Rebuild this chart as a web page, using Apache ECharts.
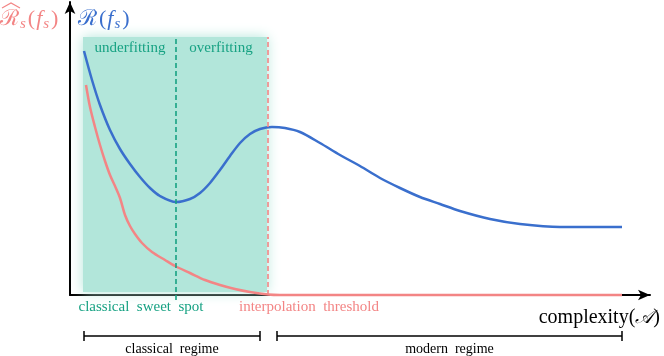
<!DOCTYPE html>
<html>
<head>
<meta charset="utf-8">
<script src="https://cdn.jsdelivr.net/npm/echarts@6/dist/echarts.min.js"></script>
<style>
html, body { margin: 0; padding: 0; background: #fff; }
#chart { width: 664px; height: 356px; }
</style>
</head>
<body>
<div id="chart"></div>
<script>
// complexity on x, risk on y (arbitrary units)
const testRisk = [
  [14, 244], [22, 215], [30, 190], [40, 165], [50, 146], [60, 131], [70, 118],
  [80, 107], [90, 99], [106, 93], [120, 96], [130, 102], [140, 112], [150, 125],
  [160, 139], [170, 152], [180, 161], [190, 166], [202, 168], [215, 167],
  [230, 163], [250, 152], [270, 140], [290, 129], [310, 117], [330, 107],
  [350, 98], [370, 91], [390, 84], [420, 76], [450, 71], [490, 68], [552, 68]
]
const trainRisk = [
  [16, 210], [20, 188], [25, 168], [30, 150], [35, 134], [40, 120], [45, 109],
  [50, 97], [55, 80], [60, 69], [65, 61], [72, 52], [82, 43], [95, 35],
  [105, 29], [120, 22], [135, 15], [150, 10], [165, 6], [180, 3], [198, 0.5],
  [210, 0], [552, 0]
]
const sweetSpotX = 106
const thresholdX = 198
const shadeX = [13, 197]
const shadeTop = 258
const classicalRegime = [14, 190]
const modernRegime = [207, 552]

const BLUE = '#3a6fcd'
const RED = '#f38585'
const TEAL = '#17a283'
const SHADE = '#b2e6da'
const SERIF = "'Liberation Serif', 'DejaVu Serif', serif"

const chart = echarts.init(document.getElementById('chart'))

const axisLine = {
  show: true,
  symbol: ['none', 'arrow'],
  symbolSize: [8, 12],
  lineStyle: { color: '#000', width: 2 },
}

chart.setOption({
  animation: false,
  grid: { left: 70, right: 14, top: 2, bottom: 61 },
  xAxis: {
    type: 'value', min: 0, max: 580,
    axisLine: axisLine,
    axisTick: { show: false }, axisLabel: { show: false }, splitLine: { show: false },
  },
  yAxis: {
    type: 'value', min: 0, max: 293,
    axisLine: axisLine,
    axisTick: { show: false }, axisLabel: { show: false }, splitLine: { show: false },
  },
  series: [
    {
      name: 'shade',
      type: 'line',
      data: [],
      z: 1,
      silent: true,
      markArea: {
        silent: true,
        itemStyle: { color: SHADE, shadowBlur: 12, shadowColor: SHADE },
        data: [[{ coord: [shadeX[0], 3] }, { coord: [shadeX[1], shadeTop] }]],
      },
    },
    {
      name: 'train',
      type: 'line',
      data: trainRisk,
      smooth: 0.3,
      symbol: 'none',
      clip: false,
      z: 3,
      lineStyle: { color: RED, width: 2.5 },
    },
    {
      name: 'test',
      type: 'line',
      data: testRisk,
      smooth: 0.3,
      symbol: 'none',
      clip: false,
      z: 4,
      lineStyle: { color: BLUE, width: 2.5 },
    },
  ],
})

const px = (x, y) => chart.convertToPixel({ gridIndex: 0 }, [x, y])

function label(x, y, text, color, size, align) {
  const p = px(x, y)
  return {
    type: 'text', x: p[0], y: p[1], z: 10,
    style: {
      text: text, fill: color, font: size + 'px ' + SERIF,
      align: align || 'center', verticalAlign: 'middle',
    },
  }
}

function vDash(x, y0, y1, color) {
  const a = px(x, y0)
  const b = px(x, y1)
  return {
    type: 'line', z: 5,
    shape: { x1: a[0], y1: a[1], x2: b[0], y2: b[1] },
    style: { stroke: color, lineWidth: 1.6, lineDash: [5, 3] },
  }
}

function bracket(range, y) {
  const a = px(range[0], y)
  const b = px(range[1], y)
  const ls = { stroke: '#000', lineWidth: 1.5 }
  return [
    { type: 'line', shape: { x1: a[0], y1: a[1], x2: b[0], y2: b[1] }, style: ls },
    { type: 'line', shape: { x1: a[0], y1: a[1] - 5, x2: a[0], y2: a[1] + 5 }, style: ls },
    { type: 'line', shape: { x1: b[0], y1: b[1] - 5, x2: b[0], y2: b[1] + 5 }, style: ls },
  ]
}

const riskRich = {
  r: { fontFamily: "'DejaVu Serif'", fontSize: 22, verticalAlign: 'middle', padding: [0, 1, 0, 0] },
  p: { fontFamily: SERIF, fontSize: 22, verticalAlign: 'middle', padding: [0, 1, 0, 1] },
  f: { fontFamily: SERIF, fontSize: 22, fontStyle: 'italic', verticalAlign: 'middle', padding: [0, 1, 0, 0] },
  s: { fontFamily: SERIF, fontSize: 15, fontStyle: 'italic', padding: [11, 1, 0, 0], verticalAlign: 'middle' },
}

function riskLabel(x, y, color, hat) {
  const p = px(x, y)
  const rich = {}
  Object.keys(riskRich).forEach(k => { rich[k] = Object.assign({ fill: color }, riskRich[k]) })
  const els = [{
    type: 'text', x: p[0], y: p[1], z: 10,
    style: {
      text: hat ? '{r|ℛ}{s|s}{p|(}{f|f}{s|s}{p|)}' : '{r|ℛ}{p|(}{f|f}{s|s}{p|)}',
      rich: rich, align: 'left', verticalAlign: 'middle',
    },
  }]
  if (hat) {
    els.push({
      type: 'polyline', z: 10,
      shape: { points: [[p[0] + 2, p[1] - 11], [p[0] + 11, p[1] - 16], [p[0] + 20, p[1] - 11]] },
      style: { stroke: color, lineWidth: 1.2, fill: null },
    })
  }
  return els
}

const cx = px(590, -23)

chart.setOption({
  graphic: [
    vDash(sweetSpotX, -5, shadeTop, TEAL),
    vDash(thresholdX, 0, shadeTop, RED),
    ...riskLabel(-70, 276, RED, true),
    ...riskLabel(8, 276, BLUE, false),
    label(60, 247, 'underfitting', TEAL, 15),
    label(151, 247, 'overfitting', TEAL, 15),
    label(71, -12, 'classical  sweet  spot', TEAL, 15),
    label(239, -12, 'interpolation  threshold', RED, 15),
    {
      type: 'text', z: 10, x: cx[0], y: cx[1],
      style: {
        text: 'complexity({a|𝒜})',
        rich: { a: { fontFamily: "'DejaVu Sans'", fontSize: 19, fontStyle: 'italic' } },
        font: '20px ' + SERIF, fill: '#000', align: 'right', verticalAlign: 'middle',
      },
    },
    ...bracket(classicalRegime, -41),
    ...bracket(modernRegime, -41),
    label((classicalRegime[0] + classicalRegime[1]) / 2, -54, 'classical  regime', '#000', 14),
    label((modernRegime[0] + modernRegime[1]) / 2, -54, 'modern  regime', '#000', 14),
  ],
})

window.addEventListener('resize', () => chart.resize())
</script>
</body>
</html>
